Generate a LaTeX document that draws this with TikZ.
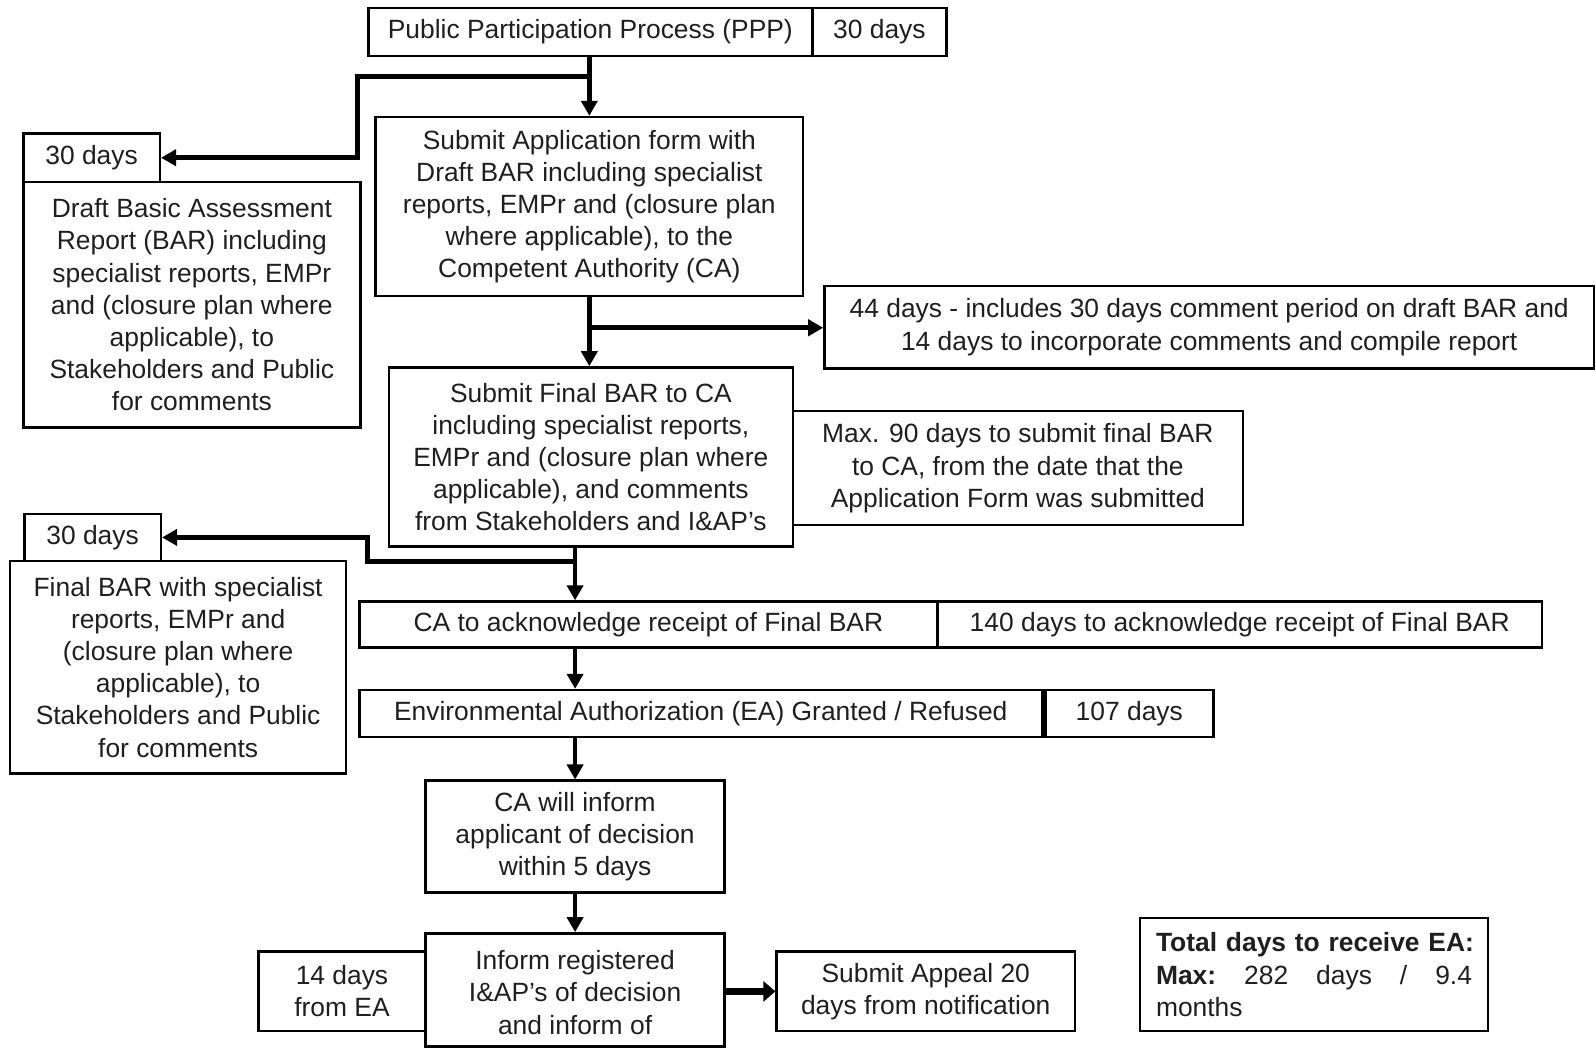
\documentclass[tikz,border=0pt]{standalone}
\usepackage{fontspec}
\setmainfont{Liberation Sans}
\usetikzlibrary{arrows.meta,fit}
\begin{document}
\begin{tikzpicture}[x=0.50893pt,y=-0.50893pt,
  box/.style={draw=black,line width=1.25pt,inner sep=0pt},
  txt/.style={inner sep=0pt,align=center,font=\fontsize{13.2}{16.1}\selectfont,text=black!88},
  arr/.style={line width=2.4pt,-{Triangle[length=7.5pt,width=8pt]}}]
\useasboundingbox (0,0) rectangle (1568,1030.6);
% boxes
\node[box,fit={(362,8)(798,55)}] (ppp) {};
\node[txt] (ppp-t) at (ppp.center) {Public Participation Process (PPP)};
\node[box,fit={(798,8)(930,55)}] (pppd) {};
\node[txt] (pppd-t) at (pppd.center) {30 days};
\node[box,fit={(369,115)(789,291)}] (sa) {};
\node[txt] (sa-t) at (sa.center) {Submit Application form with\\Draft BAR including specialist\\reports, EMPr and (closure plan\\where applicable), to the\\Competent Authority (CA)};
\node[box,fit={(23,131)(157,179)}] (d30a) {};
\node[txt] (d30a-t) at (d30a.center) {30 days};
\node[box,fit={(23,179)(354,420)}] (draft) {};
\node[txt] (draft-t) at (draft.center) {Draft Basic Assessment\\Report (BAR) including\\specialist reports, EMPr\\and (closure plan where\\applicable), to\\Stakeholders and Public\\for comments};
\node[box,fit={(810,281)(1566,362)}] (d44) {};
\node[txt] (d44-t) at (d44.center) {44 days - includes 30 days comment period on draft BAR and\\14 days to incorporate comments and compile report};
\node[box,fit={(382,361)(779,537)}] (fin) {};
\node[txt] (fin-t) at (fin.center) {Submit Final BAR to CA\\including specialist reports,\\EMPr and (closure plan where\\applicable), and comments\\from Stakeholders and I\&AP’s};
\node[box,fit={(779,404)(1221,516)}] (max90) {};
\node[txt] (max90-t) at (max90.center) {Max. 90 days to submit final BAR\\to CA, from the date that the\\Application Form was submitted};
\node[box,fit={(24,505)(158,551)}] (d30b) {};
\node[txt] (d30b-t) at (d30b.center) {30 days};
\node[box,fit={(10,551)(340,760)}] (finbar) {};
\node[txt] (finbar-t) at (finbar.center) {Final BAR with specialist\\reports, EMPr and\\(closure plan where\\applicable), to\\Stakeholders and Public\\for comments};
\node[box,fit={(353,591)(921,636)}] (ack) {};
\node[txt] (ack-t) at (ack.center) {CA to acknowledge receipt of Final BAR};
\node[box,fit={(921,591)(1515,636)}] (d140) {};
\node[txt] (d140-t) at (d140.center) {140 days to acknowledge receipt of Final BAR};
\node[box,fit={(353,678)(1024,724)}] (ea) {};
\node[txt] (ea-t) at (ea.center) {Environmental Authorization (EA) Granted / Refused};
\node[box,fit={(1027,678)(1192,724)}] (d107) {};
\node[txt] (d107-t) at (d107.center) {107 days};
\node[box,fit={(418,767)(712,877)}] (inf) {};
\node[txt] (inf-t) at (inf.center) {CA will inform\\applicant of decision\\within 5 days};
\node[box,fit={(418,917)(712,1028)}] (reg) {};
\node[txt] (reg-t) at (565,975) {Inform registered\\I\&AP’s of decision\\and inform of};
\node[box,fit={(254,935)(418,1013)}] (d14) {};
\node[txt] (d14-t) at (d14.center) {14 days\\from EA};
\node[box,fit={(763,935)(1056,1013)}] (app) {};
\node[txt] (app-t) at (app.center) {Submit Appeal 20\\days from notification};
\node[box,fit={(1120,902)(1462,1013)}] (tot) {};
\node[txt,align=left,text width=158pt] (tot-t) at (tot.center) {\mbox{\textbf{Total days to receive EA:}}\\\textbf{Max:}\hfill 282\hfill days\hfill /\hfill 9.4\\months};
% connectors
\coordinate (b1) at (579,75);
\coordinate (b1c) at (351,75);
\draw[arr] (sa.north |- ppp.south) -- (sa.north);
\draw[arr] (b1) -- (b1c) |- (d30a.east);
\draw[arr] (sa.south) -- (sa.south |- fin.north);
\coordinate (b2) at (579,322);
\draw[arr] (b2) -- (d44.west |- b2);
\coordinate (b3) at (565,552);
\coordinate (b3c) at (361,552);
\draw[arr] (b3 |- fin.south) -- (b3 |- ack.north);
\draw[arr] (b3) -- (b3c) |- (d30b.east);
\draw[arr] (b3 |- ack.south) -- (b3 |- ea.north);
\draw[arr] (b3 |- ea.south) -- (inf.north);
\draw[arr] (inf.south) -- (reg.north);
\draw[line width=3.2pt,-{Triangle[length=6pt,width=10pt]}] (reg.east |- app.west) -- (app.west);
\end{tikzpicture}
\end{document}
